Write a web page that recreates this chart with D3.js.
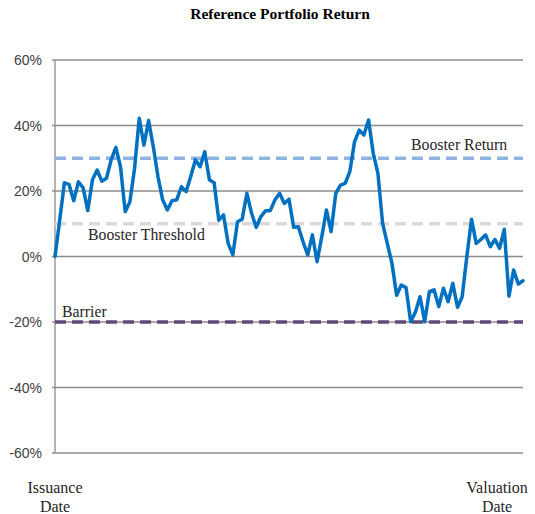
<!DOCTYPE html>
<html>
<head>
<meta charset="utf-8">
<script src="https://cdn.jsdelivr.net/npm/d3@7"></script>
<style>
  body { margin: 0; background: #fff; }
  svg { display: block; }
</style>
</head>
<body>
<div id="root"></div>
<script>
const returns = [
	0, 11, 22.5, 22, 17, 22.8, 21, 14, 23.4, 26.4,
	23, 23.9, 29.5, 33.3, 27.4, 13.7, 16.7, 26.9, 42.2, 34,
	41.5, 33.5, 24.4, 17.3, 14.2, 17, 17.3, 21.3, 19.8, 24.4,
	29.5, 27.4, 32, 23.4, 22.5, 11.1, 12.7, 4, 0.5, 10.6,
	11.4, 19.3, 13.2, 8.9, 12.2, 14, 14, 17.3, 19.3, 16.2,
	17.5, 8.9, 9.1, 4.5, 0.5, 6.6, -1.6, 6, 14.2, 7.6,
	19.3, 21.8, 22.3, 25.9, 35, 38.6, 37.1, 41.7, 31.5, 25.4,
	10.1, 4, -2.1, -11.8, -8.7, -9.5, -19.9, -17, -12.3, -19.9,
	-10.7, -10.2, -15.3, -9.7, -13.8, -8.2, -15.5, -12.3, 0, 11.4,
	4, 5.2, 6.6, 3, 5.2, 2.5, 8.3, -12.1, -4.1, -8.4,
	-7.4
];

const yTicks = [-60, -40, -20, 0, 20, 40, 60];

const levelNames = ["Booster Return", "Booster Threshold", "Barrier"];
const levelValues = [30, 10, -20];
const levelColors = ["#8db4e2", "#d9d9d9", "#604a7b"];

const xLabels = [["Issuance", "Date"], ["Valuation", "Date"]];

const width = 535, height = 514;
const margin = { top: 60, right: 12, bottom: 61, left: 55 };

const svg = d3.select("#root")
	.append("svg")
		.attr("width", width)
		.attr("height", height);

const x = d3.scaleLinear()
	.domain([0, returns.length - 1])
	.range([margin.left, width - margin.right]);

const y = d3.scaleLinear()
	.domain([-60, 60])
	.range([height - margin.bottom, margin.top]);

// title
svg.append("text")
	.attr("x", 280)
	.attr("y", 19)
	.attr("text-anchor", "middle")
	.style("font-family", "'Liberation Serif', 'Times New Roman', serif")
	.style("font-weight", "bold")
	.style("font-size", "15.5px")
	.text("Reference Portfolio Return");

// gridlines
svg.append("g")
	.selectAll(".grid")
	.data(yTicks)
	.enter()
	.append("line")
		.attr("class", "grid")
		.attr("x1", margin.left - 3)
		.attr("x2", width - margin.right)
		.attr("y1", d => y(d))
		.attr("y2", d => y(d))
		.style("stroke", "#8c8c8c")
		.style("stroke-width", 1.3);

// y labels
svg.append("g")
	.selectAll(".ylabel")
	.data(yTicks)
	.enter()
	.append("text")
		.attr("x", margin.left - 13)
		.attr("y", d => y(d) + 5)
		.attr("text-anchor", "end")
		.style("font-family", "'Liberation Sans', Arial, sans-serif")
		.style("font-size", "14px")
		.style("fill", "#404040")
		.text(d => d3.format(".0%")(d / 100).replace("−", "-"));

// axis line
svg.append("line")
	.attr("x1", margin.left).attr("x2", margin.left)
	.attr("y1", y(60)).attr("y2", y(-60))
	.style("stroke", "#8c8c8c")
	.style("stroke-width", 1.3);

// threshold levels
const levels = levelValues.map((v, i) => ({ value: v, name: levelNames[i], color: levelColors[i] }));

svg.append("g")
	.selectAll(".level")
	.data(levels)
	.enter()
	.append("line")
		.attr("class", "level")
		.attr("x1", margin.left)
		.attr("x2", width - margin.right)
		.attr("y1", d => y(d.value))
		.attr("y2", d => y(d.value))
		.style("stroke", d => d.color)
		.style("stroke-width", 3.5)
		.style("stroke-dasharray", "11, 6");

const labelPos = [[411, -8], [88, 16], [62, -5]];

svg.append("g")
	.selectAll(".level-label")
	.data(levels)
	.enter()
	.append("text")
		.attr("x", (d, i) => labelPos[i][0])
		.attr("y", (d, i) => y(d.value) + labelPos[i][1])
		.style("font-family", "'Liberation Serif', 'Times New Roman', serif")
		.style("font-size", "15.8px")
		.style("fill", "#262626")
		.text(d => d.name);

// return series
const line = d3.line()
	.x((d, i) => x(i))
	.y(d => y(d));

svg.append("path")
	.datum(returns)
	.attr("d", line)
	.style("fill", "none")
	.style("stroke", "#0070c0")
	.style("stroke-width", 3.5)
	.style("stroke-linejoin", "round")
	.style("stroke-linecap", "round");

// x labels
const xl = svg.append("g")
	.selectAll(".xlabel")
	.data(xLabels)
	.enter()
	.append("text")
		.attr("x", (d, i) => i === 0 ? 55 : 497)
		.attr("y", 493)
		.attr("text-anchor", "middle")
		.style("font-family", "'Liberation Serif', 'Times New Roman', serif")
		.style("font-size", "16px")
		.style("fill", "#262626");

xl.selectAll("tspan")
	.data(d => d)
	.enter()
	.append("tspan")
		.attr("x", function() { return d3.select(this.parentNode).attr("x"); })
		.attr("dy", (d, i) => i === 0 ? 0 : 19)
		.text(d => d);
</script>
</body>
</html>
